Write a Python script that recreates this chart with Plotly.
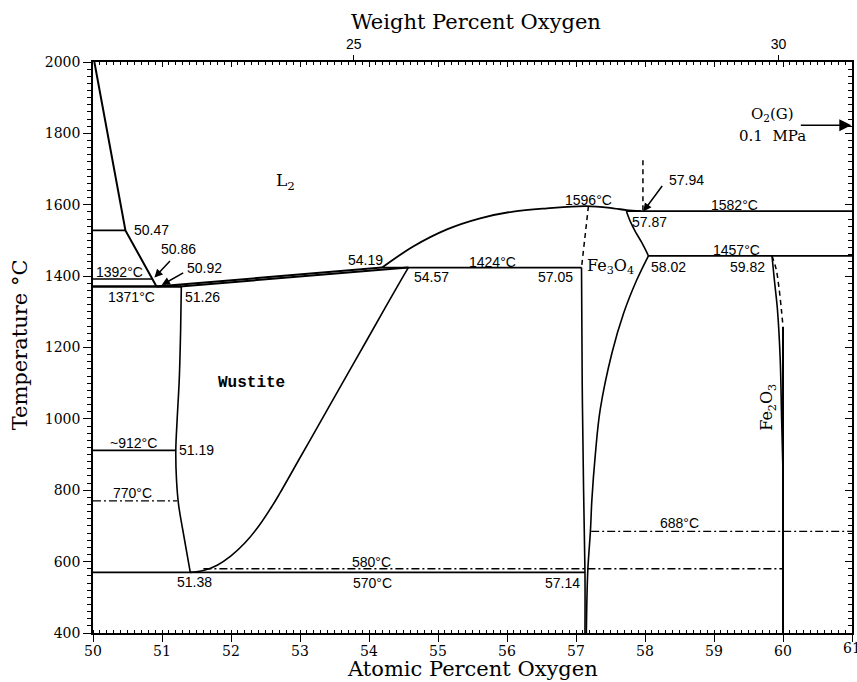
import plotly.graph_objects as go

# ---------------- data: atomic % O  vs  temperature (°C) ----------------
liquidus_fe_x = [50.02, 50.47, 50.86, 50.92]
liquidus_fe_t = [2000, 1528, 1392, 1371]

wus_liquidus_x = [50.92, 54.19]
wus_liquidus_t = [1371, 1424]
wus_solidus_x = [51.26, 54.57]
wus_solidus_t = [1371, 1424]

wus_left_x = [51.28, 51.27, 51.25, 51.22, 51.20, 51.21, 51.24, 51.30, 51.41]
wus_left_t = [1371, 1250, 1110, 1000, 912, 830, 760, 690, 570]

wus_right_x = [51.41, 51.6, 51.8, 52.0, 52.2, 52.4, 52.6, 52.7, 53.0, 53.3, 53.6, 53.97, 54.26, 54.47, 54.57]
wus_right_t = [570, 575, 590, 616, 652, 699, 757, 789, 891, 993, 1095, 1221, 1320, 1391, 1424]

oxide_liq_x = [54.19, 54.64, 55.13, 55.61, 56.09, 56.58, 57.15, 57.54, 57.73, 57.94]
oxide_liq_t = [1424, 1483, 1531, 1562, 1581, 1590, 1596, 1590, 1585, 1582]

mag_cong_x = [57.18, 57.08]
mag_cong_t = [1596, 1424]

mag_left_x = [57.08, 57.09, 57.11, 57.13, 57.13]
mag_left_t = [1424, 1100, 800, 570, 400]

mag_top_x = [57.73, 57.79, 57.86, 57.95, 58.05]
mag_top_t = [1582, 1552, 1525, 1495, 1457]

mag_right_x = [58.05, 57.88, 57.69, 57.52, 57.35, 57.28, 57.23, 57.21, 57.17, 57.15]
mag_right_t = [1457, 1389, 1296, 1184, 1025, 900, 773, 689, 571, 400]

gas_dash_x = [57.97, 57.97]
gas_dash_t = [1725, 1582]

hem_left_x = [59.84, 59.88, 59.92, 59.96, 59.98, 60.0]
hem_left_t = [1457, 1380, 1305, 1165, 1000, 850]
hem_dash_x = [59.84, 59.90, 59.94, 59.98, 60.0]
hem_dash_t = [1457, 1420, 1370, 1300, 1258]
hem_right_x = [60.0, 60.0]
hem_right_t = [1258, 400]

# isotherms
iso_solid_t = [1528, 1392, 1371, 1424, 1582, 1457, 912, 570]
iso_solid_x0 = [50, 50, 50, 54.19, 57.73, 58.05, 50, 50]
iso_solid_x1 = [50.47, 50.86, 51.28, 57.08, 61, 61, 51.20, 57.13]

iso_dd_t = [770, 580, 685]
iso_dd_x0 = [50, 51.6, 57.22]
iso_dd_x1 = [51.22, 60.0, 61]

# axis ticks
at_ticks = [50, 51, 52, 53, 54, 55, 56, 57, 58, 59, 60, 61]
wt_ticks = [25, 30]

# point labels: (text, at% O, T)
num_labels = [
    ("1528°C", 49.58, 1529), ("50.47", 50.841, 1529), ("50.86", 51.232, 1476),
    ("50.92", 51.609, 1423), ("1392°C", 50.391, 1412), ("1371°C", 50.565, 1342),
    ("51.26", 51.594, 1342), ("54.19", 53.942, 1445), ("54.57", 54.899, 1398),
    ("1424°C", 55.790, 1440), ("57.05", 56.710, 1398), ("1596°C", 57.188, 1613),
    ("57.94", 58.601, 1669), ("1582°C", 59.304, 1599), ("57.87", 58.072, 1552),
    ("1457°C", 59.319, 1473), ("58.02", 58.341, 1426), ("59.82", 59.486, 1426),
    ("~912°C", 50.580, 933), ("51.19", 51.50, 913), ("770°C", 50.572, 792),
    ("580°C", 54.036, 599), ("570°C", 54.051, 540), ("51.38", 51.471, 543),
    ("57.14", 56.804, 540), ("688°C", 58.507, 708),
]

# ---------------- figure ----------------
fig = go.Figure()
BLK = "black"


def line(x, y, width=1.5, dash="solid", shape="linear"):
    fig.add_trace(go.Scatter(x=x, y=y, mode="lines", hoverinfo="skip", showlegend=False,
                             line=dict(color=BLK, width=width, dash=dash, shape=shape)))


line(liquidus_fe_x, liquidus_fe_t, 2)
line(wus_liquidus_x, wus_liquidus_t, 2)
line(wus_solidus_x, wus_solidus_t, 2)
line(wus_left_x, wus_left_t, 1.6, shape="spline")
line(wus_right_x, wus_right_t, 1.6, shape="spline")
line(oxide_liq_x, oxide_liq_t, 1.8, shape="spline")
line(mag_cong_x, mag_cong_t, 1.5, dash="5px,4px")
line(mag_left_x, mag_left_t, 1.6, shape="spline")
line(mag_top_x, mag_top_t, 1.6, shape="spline")
line(mag_right_x, mag_right_t, 1.6, shape="spline")
line(gas_dash_x, gas_dash_t, 1.5, dash="5px,4px")
line(hem_left_x, hem_left_t, 1.6, shape="spline")
line(hem_dash_x, hem_dash_t, 1.5, dash="5px,4px", shape="spline")
line(hem_right_x, hem_right_t, 2)

for t, a, b in zip(iso_solid_t, iso_solid_x0, iso_solid_x1):
    line([a, b], [t, t], 2.6 if t == 1371 else 1.7)
for t, a, b in zip(iso_dd_t, iso_dd_x0, iso_dd_x1):
    line([a, b], [t, t], 1.3, dash="8px,3px,2px,3px")

# empty traces to activate the extra axes
fig.add_trace(go.Scatter(x=[], y=[], xaxis="x2", yaxis="y", showlegend=False))
fig.add_trace(go.Scatter(x=[], y=[], xaxis="x3", yaxis="y", showlegend=False))
fig.add_trace(go.Scatter(x=[], y=[], xaxis="x", yaxis="y2", showlegend=False))


def wt_to_at(w):
    a = w / 15.999
    b = (100 - w) / 55.845
    return 100 * a / (a + b)


LBL = dict(family="Liberation Sans", size=14, color=BLK)
ann = []
for txt, x, t in num_labels:
    ann.append(dict(x=x, y=t, xref="x", yref="y", text=txt, showarrow=False, font=LBL))

SER = dict(family="DejaVu Serif", size=16, color=BLK)
TICKF = dict(family="DejaVu Serif", size=14, color=BLK)
ann += [
    dict(x=52.783, y=1664, xref="x", yref="y", text="L<sub>2</sub>", showarrow=False,
         font=dict(family="DejaVu Serif", size=17, color=BLK)),
    dict(x=52.304, y=1101, xref="x", yref="y", text="<b>Wustite</b>", showarrow=False,
         font=dict(family="Liberation Mono", size=16, color=BLK)),
    dict(x=57.507, y=1426, xref="x", yref="y", text="Fe<sub>3</sub>O<sub>4</sub>", showarrow=False, font=SER),
    dict(x=59.783, y=1031, xref="x", yref="y", text="Fe<sub>2</sub>O<sub>3</sub>", showarrow=False,
         textangle=-90, font=SER),
    dict(x=59.841, y=1854, xref="x", yref="y", text="O<sub>2</sub>(G)", showarrow=False,
         font=dict(family="DejaVu Serif", size=15, color=BLK)),
    dict(x=59.855, y=1794, xref="x", yref="y", text="0.1  MPa", showarrow=False,
         font=dict(family="DejaVu Serif", size=15, color=BLK)),
    # last bottom tick label, partly past the page edge as in the original
    dict(x=at_ticks[-1], y=-0.027, xref="x", yref="paper", text=str(at_ticks[-1]),
         showarrow=False, font=TICKF, xanchor="center", yanchor="middle"),
]
# arrows
for hx, ht, ax, ay, sz in [(50.89, 1396, 17, -18, 1.1), (50.996, 1375, 23, -13, 1.1),
                           (57.975, 1581, 20, -27, 1.1), (60.99, 1823, -52, 0, 1.6)]:
    ann.append(dict(x=hx, y=ht, xref="x", yref="y", text="", showarrow=True, ax=ax, ay=ay,
                    arrowhead=2, arrowsize=sz, arrowwidth=1.5, arrowcolor=BLK, standoff=0))

TTL = dict(family="DejaVu Serif", size=21, color=BLK)
ann += [
    dict(x=0.5, y=-0.0625, xref="paper", yref="paper", text="Atomic Percent Oxygen",
         showarrow=False, font=TTL, yanchor="middle"),
    dict(x=0.504, y=1.070, xref="paper", yref="paper", text="Weight Percent Oxygen",
         showarrow=False, font=TTL, yanchor="middle"),
    dict(x=-0.096, y=0.504, xref="paper", yref="paper", text="Temperature °C",
         showarrow=False, font=TTL, textangle=-90, xanchor="center", yanchor="middle"),
]

XR = [50, 61]
YR = [400, 2000]

fig.update_layout(
    width=857, height=682,
    margin=dict(l=93, r=5, t=62, b=49, pad=0, autoexpand=False),
    plot_bgcolor="white", paper_bgcolor="white",
    showlegend=False,
    annotations=ann,
    xaxis=dict(range=XR, showgrid=False, zeroline=False, showline=True, linecolor=BLK, linewidth=1.5,
               ticks="outside", ticklen=7, tickwidth=1.2, tickcolor=BLK,
               tickmode="array", tickvals=at_ticks, ticktext=[str(v) for v in at_ticks],
               tickfont=TICKF, mirror=False, automargin=False, ticklabelstandoff=-3,
               minor=dict(dtick=0.1, tick0=50, ticks="inside", ticklen=3, tickwidth=1, tickcolor=BLK)),
    xaxis3=dict(range=XR, overlaying="x", side="top", showgrid=False, zeroline=False, showline=True,
                linecolor=BLK, linewidth=1.5, ticks="inside", ticklen=5, tickwidth=1, tickcolor=BLK,
                dtick=1, tick0=50, showticklabels=False, automargin=False,
                minor=dict(dtick=0.1, ticks="inside", ticklen=3, tickwidth=1, tickcolor=BLK)),
    xaxis2=dict(range=XR, overlaying="x", side="top", showgrid=False, zeroline=False, showline=False,
                ticks="outside", ticklen=6, tickwidth=1.2, tickcolor=BLK, automargin=False,
                tickmode="array", tickvals=[wt_to_at(w) for w in wt_ticks],
                ticktext=[str(w) for w in wt_ticks],
                tickfont=dict(family="Liberation Sans", size=14, color=BLK)),
    yaxis=dict(range=YR, showgrid=False, zeroline=False, showline=True, linecolor=BLK, linewidth=1.5,
               ticks="outside", ticklen=8, tickwidth=1.2, tickcolor=BLK, dtick=200, tick0=400,
               tickfont=TICKF, automargin=False,
               minor=dict(dtick=20, ticks="outside", ticklen=4, tickwidth=1, tickcolor=BLK)),
    yaxis2=dict(range=YR, overlaying="y", side="right", showgrid=False, zeroline=False, showline=True,
                linecolor=BLK, linewidth=1.5, ticks="inside", ticklen=7, tickwidth=1, tickcolor=BLK,
                dtick=200, tick0=400, showticklabels=False, automargin=False,
                minor=dict(dtick=20, ticks="inside", ticklen=4, tickwidth=1, tickcolor=BLK)),
)

fig.write_html("out.html", config={"displayModeBar": False},
               post_script="document.body.style.margin='0px';document.body.style.overflow='hidden';")
